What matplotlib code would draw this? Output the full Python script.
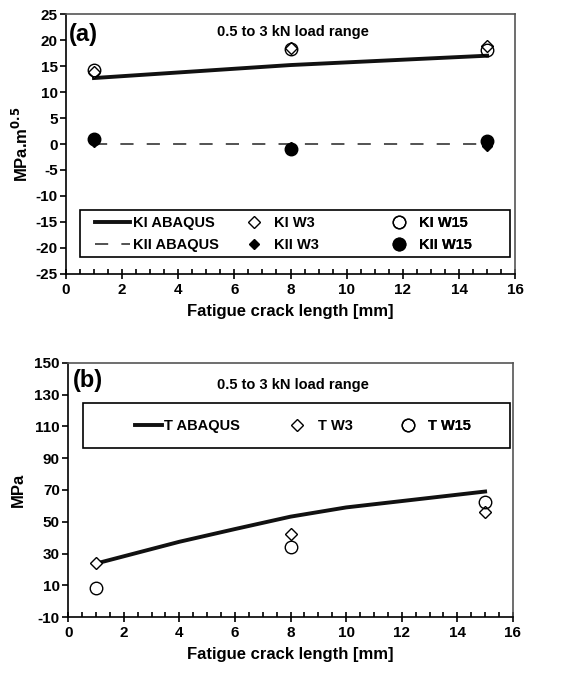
import numpy as np
import matplotlib.pyplot as plt
from matplotlib.ticker import MultipleLocator
from matplotlib.patches import Rectangle

plt.rcParams["font.family"] = ["Liberation Sans", "DejaVu Sans"]
plt.rcParams["font.weight"] = "bold"
plt.rcParams["axes.unicode_minus"] = False
plt.rcParams["mathtext.default"] = "bf"

# panel (a): stress intensity factors
crack = [1, 8, 15]
ki_abaqus = [12.7, 15.2, 17.0]
kii_abaqus = [0.0, 0.0, 0.0]
ki_w3 = [13.8, 18.5, 18.8]
ki_w15 = [14.3, 18.2, 18.1]
kii_w3 = [0.3, -0.6, -0.4]
kii_w15 = [1.0, -0.9, 0.6]

# panel (b): T-stress
t_crack = [1, 4, 6, 8, 10, 12, 15]
t_abaqus = [23.7, 37.4, 45.4, 53.2, 59.0, 63.0, 69.0]
t_w3 = [24.3, 42.0, 56.3]
t_w15 = [8.3, 34.4, 62.6]

panel_a_yticks = np.arange(-25, 26, 5)
panel_b_yticks = np.arange(-10, 151, 20)
title_text = "0.5 to 3 kN load range"


def style_axes(ax, yticks):
    ax.set_xlim(0, 16)
    ax.set_ylim(yticks[0], yticks[-1])
    ax.set_yticks(yticks)
    ax.xaxis.set_major_locator(MultipleLocator(2))
    ax.xaxis.set_minor_locator(MultipleLocator(0.5))
    ax.tick_params(axis="x", which="major", direction="inout", length=7, width=1.2, labelsize=11, pad=3)
    ax.tick_params(axis="x", which="minor", direction="in", length=3.5, width=1.2)
    ax.tick_params(axis="y", which="major", direction="out", length=4, width=1.2, labelsize=11, pad=2)
    for lab in ax.get_xticklabels() + ax.get_yticklabels():
        lab.set_fontweight("bold")
    for sp in ax.spines.values():
        sp.set_linewidth(1.2)
    ax.spines["top"].set_color("#555555")
    ax.spines["right"].set_color("#555555")
    ax.set_xlabel("Fatigue crack length [mm]", fontsize=12, fontweight="bold", labelpad=5)


def column_legend(ax, handles, x, y, hlen):
    leg = ax.legend(handles=handles, loc="center left", bbox_to_anchor=(x, y),
                    frameon=False, borderpad=0, borderaxespad=0, handlelength=hlen,
                    handletextpad=0.2, labelspacing=0.55,
                    prop={"weight": "bold", "size": 10.5})
    ax.add_artist(leg)
    return leg


def legend_box(ax, x0, y0, x1, y1):
    ax.add_patch(Rectangle((x0, y0), x1 - x0, y1 - y0, transform=ax.transAxes,
                           facecolor="white", edgecolor="black", lw=1.2, zorder=4))


fig = plt.figure(figsize=(5.68, 6.73), dpi=100)
ax1 = fig.add_axes([0.116, 0.593, 0.791, 0.386])
ax2 = fig.add_axes([0.120, 0.083, 0.783, 0.378])

mk = dict(linestyle="none", markeredgecolor="black", markeredgewidth=1.0)

h_ki, = ax1.plot(crack, ki_abaqus, color="#111111", lw=2.8, label="KI ABAQUS")
h_kii, = ax1.plot(crack, kii_abaqus, color="#444444", lw=1.3, dashes=(7.3, 7.3), label="KII ABAQUS")
h_kiw3, = ax1.plot(crack, ki_w3, marker="D", markersize=6, markerfacecolor="white", label="KI W3", **mk)
h_kiiw3, = ax1.plot(crack, kii_w3, marker="D", markersize=5.5, markerfacecolor="black", label="KII W3", **mk)
h_kiw15, = ax1.plot(crack, ki_w15, marker="o", markersize=9, markerfacecolor="none", label="KI W15", **mk)
h_kiiw15, = ax1.plot(crack, kii_w15, marker="o", markersize=9, markerfacecolor="black", label="KII W15", **mk)
style_axes(ax1, panel_a_yticks)
ax1.set_ylabel("MPa.m$^{0.5}$", fontsize=12, fontweight="bold", labelpad=3)
ax1.text(0.007, 0.965, "(a)", transform=ax1.transAxes, fontsize=17, fontweight="bold", va="top")
ax1.text(0.505, 0.96, title_text, transform=ax1.transAxes, fontsize=10.5, fontweight="bold",
         va="top", ha="center")

legend_box(ax1, 0.031, 0.065, 0.989, 0.246)
for hs, x, hl in [([h_ki, h_kii], 0.0646, 2.4), ([h_kiw3, h_kiiw3], 0.379, 2.4),
                  ([h_kiw15, h_kiiw15], 0.702, 2.4)]:
    leg = column_legend(ax1, hs, x, 0.154, hl)
    leg.set_zorder(5)

h_t, = ax2.plot(t_crack, t_abaqus, color="#111111", lw=2.8, label="T ABAQUS")
h_tw3, = ax2.plot(crack, t_w3, marker="D", markersize=6, markerfacecolor="white", label="T W3", **mk)
h_tw15, = ax2.plot(crack, t_w15, marker="o", markersize=9, markerfacecolor="none", label="T W15", **mk)
style_axes(ax2, panel_b_yticks)
ax2.set_ylabel("MPa", fontsize=12, fontweight="bold", labelpad=6)
ax2.text(0.01, 0.975, "(b)", transform=ax2.transAxes, fontsize=17, fontweight="bold", va="top")
ax2.text(0.505, 0.94, title_text, transform=ax2.transAxes, fontsize=10.5, fontweight="bold",
         va="top", ha="center")

legend_box(ax2, 0.034, 0.665, 0.993, 0.843)
for hs, x, hl in [([h_t], 0.151, 1.8), ([h_tw3], 0.476, 2.4), ([h_tw15], 0.724, 2.4)]:
    leg = column_legend(ax2, hs, x, 0.752, hl)
    leg.set_zorder(5)

fig.savefig("out.png", dpi=100)
